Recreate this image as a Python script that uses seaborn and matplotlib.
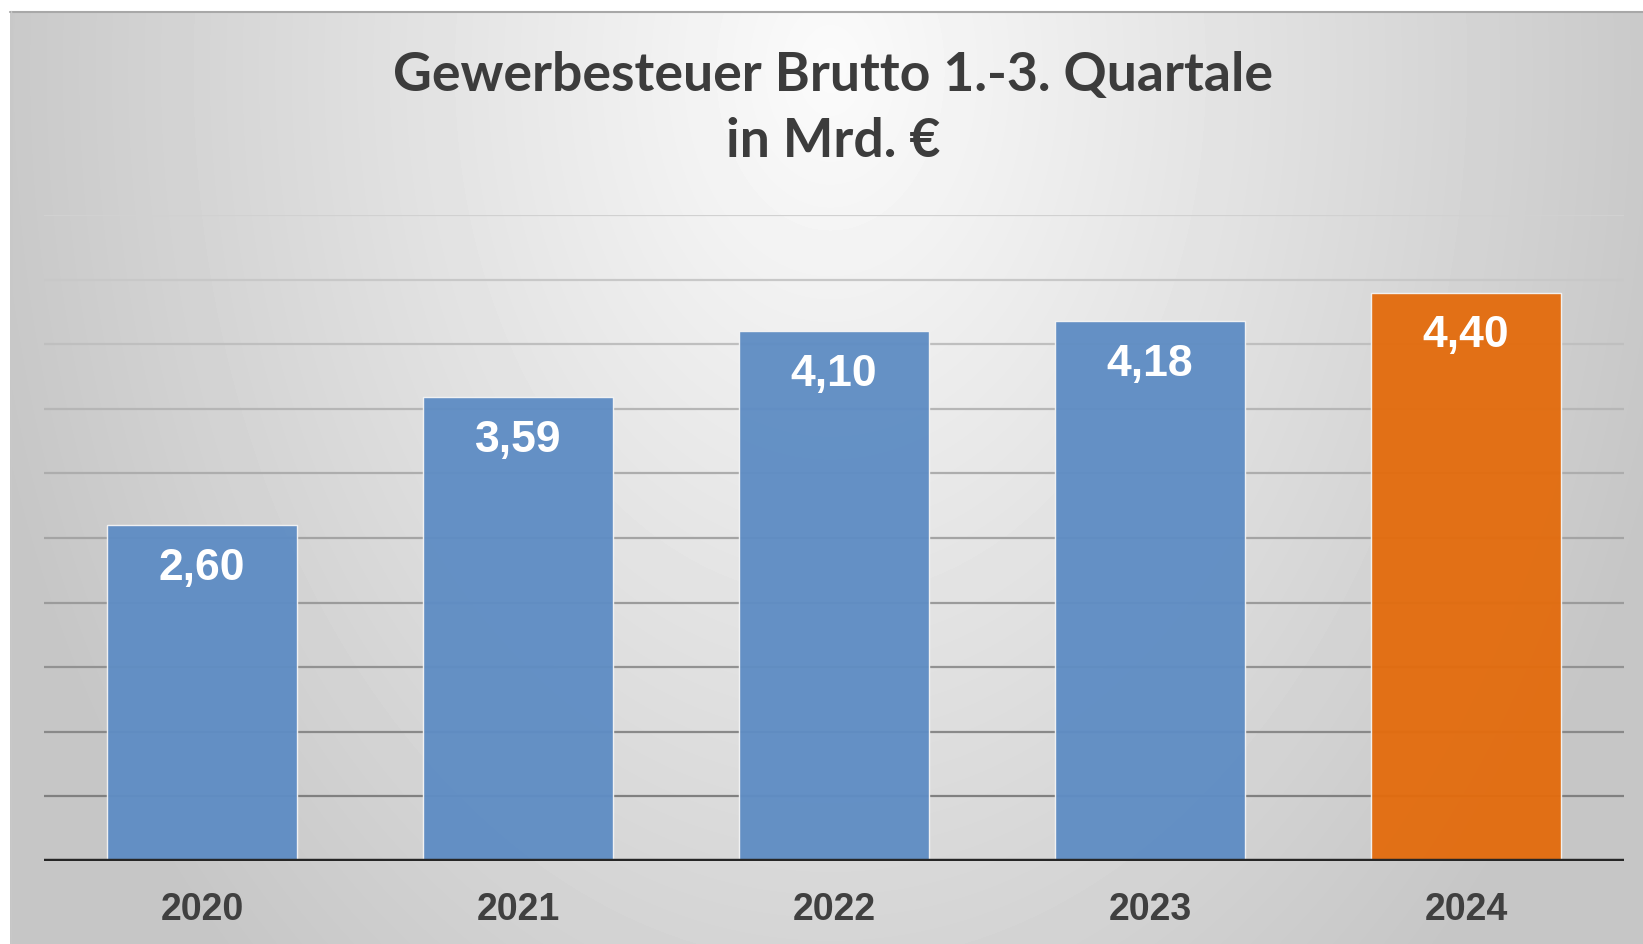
import numpy as np
import pandas as pd
import seaborn as sns
import matplotlib.pyplot as plt

# %%
years = ["2020", "2021", "2022", "2023", "2024"]
values = [2.60, 3.59, 4.10, 4.18, 4.40]
value_labels = ["2,60", "3,59", "4,10", "4,18", "4,40"]
bar_colors = ["#5f8dc4", "#5f8dc4", "#5f8dc4", "#5f8dc4", "#e36c0e"]
title_lines = ["Gewerbesteuer Brutto 1.-3. Quartale", "in Mrd. €"]

df = pd.DataFrame({"Jahr": years, "Wert": values})

# %%
W, H = 1643, 944
sns.set_theme(style="white")
plt.rcParams["font.family"] = ["Liberation Sans", "DejaVu Sans"]

fig = plt.figure(figsize=(W / 100, H / 100), dpi=100)
fig.patch.set_facecolor("white")

# background panel with radial grey gradient
bg = fig.add_axes([0, 0, 1, 1], zorder=-5)
px0, py0 = 10, 11
xx, yy = np.meshgrid(np.arange(px0, W), np.arange(py0, H))
t = np.sqrt(((xx - 830) / 820.0) ** 2 + ((yy - 70) / 1150.0) ** 2)
shade = np.clip(251 - 50 * t, 198, 251) / 255.0
bg.imshow(shade, cmap="gray", vmin=0, vmax=1, extent=(px0, W, H, py0),
          interpolation="bilinear", aspect="auto")
bg.plot([px0, W], [py0 + 0.5, py0 + 0.5], color="#a8a8a8", lw=1.5)
bg.plot([px0 + 0.5, px0 + 0.5], [py0, H], color="#c8c8c8", lw=1.0)
bg.set_xlim(0, W)
bg.set_ylim(H, 0)
bg.axis("off")

# %%
ax = fig.add_axes([44 / W, 1 - 861 / H, 1580 / W, (861 - 215) / H])
ax.set_facecolor("none")

# gridlines fade towards the top
levels = np.arange(0.5, 5.01, 0.5)
for lv in levels:
    g = 0.50 + 0.32 * (lv - 0.5) / 4.5
    ax.axhline(lv, color=(g, g, g), lw=1.6, zorder=0)

sns.barplot(data=df, x="Jahr", y="Wert", hue="Jahr", palette=bar_colors,
            legend=False, width=0.6, saturation=1, ax=ax, zorder=2,
            edgecolor="#f4f4f4", linewidth=1.0, alpha=0.96)

for i, cont in enumerate(ax.containers):
    ax.bar_label(cont, labels=[value_labels[i]], padding=-46, color="white",
                 fontsize=32, fontweight="bold")

ax.axhline(0, color="#262626", lw=3.2, zorder=3)
ax.set_xlim(-0.5, 4.5)
ax.set_ylim(0, 5.0)
ax.set_yticks([])
ax.set_xlabel("")
ax.set_ylabel("")
ax.tick_params(axis="x", length=0, pad=22, labelsize=27, labelcolor="#404040")
for lab in ax.get_xticklabels():
    lab.set_fontweight("bold")
sns.despine(ax=ax, left=True, bottom=True)

# title
fig.text(833 / W, 1 - 75 / H, title_lines[0], ha="center", va="center",
         fontsize=38.5, fontweight="bold", color="#3c3c3c", family=["Lato", "DejaVu Sans"])
fig.text(833 / W, 1 - 142 / H, title_lines[1], ha="center", va="center",
         fontsize=38.5, fontweight="bold", color="#3c3c3c", family=["Lato", "DejaVu Sans"])

fig.savefig("out.png", dpi=100)
